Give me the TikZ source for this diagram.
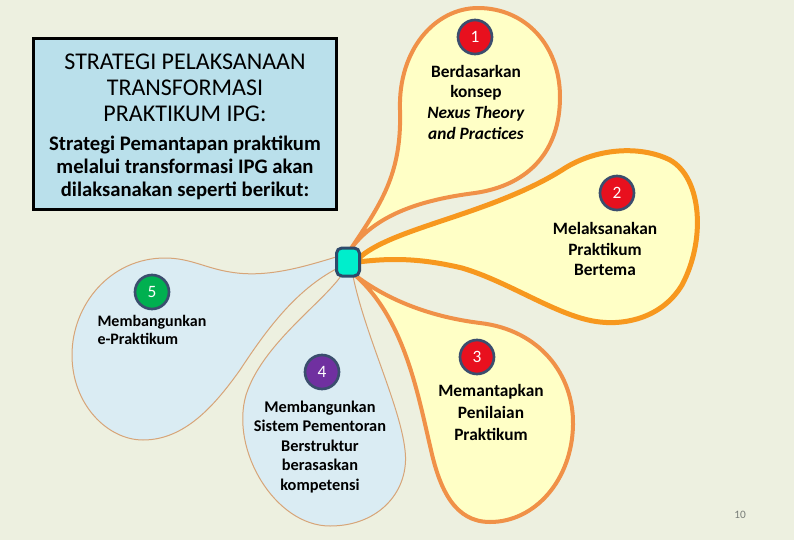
\documentclass[tikz,border=0pt]{standalone}
\usepackage{fontspec}
\setmainfont{Carlito}

\tikzset{every picture/.style={line width=0.75pt}}
\tikzset{
  petalyellow/.style={fill={rgb, 255:red, 255; green, 255; blue, 198 }, draw={rgb, 255:red, 240; green, 145; blue, 72 }, line width=3pt, line join=round},
  petalblue/.style={fill={rgb, 255:red, 218; green, 236; blue, 243 }, draw={rgb, 255:red, 215; green, 165; blue, 120 }, line width=0.75pt},
  numdot/.style={circle, draw={rgb, 255:red, 59; green, 78; blue, 110 }, line width=2pt, minimum size=25.5pt, inner sep=0pt, text=white, font=\fontsize{13}{15}\selectfont},
  petaltext/.style={align=center, inner sep=0.75pt, font=\bfseries\fontsize{13}{15.5}\selectfont},
}

\begin{document}
\begin{tikzpicture}[x=0.75pt,y=0.75pt,yscale=-1,xscale=1]
%Background
\fill [fill={rgb, 255:red, 237; green, 240; blue, 224 }] (0,0) rectangle (794,540);
\useasboundingbox (0,0) rectangle (794,540);

%Shape: Rectangle [title box]
\draw [fill={rgb, 255:red, 186; green, 224; blue, 235 }, line width=2.25pt] (33,38) rectangle (336,209);

%Shape: Petal 5
\draw [petalblue] (336,257) .. controls (300,268) and (265,278) .. (230,272) .. controls (205,268) and (190,258) .. (165,258) .. controls (110,258) and (72,305) .. (72,355) .. controls (72,405) and (108,440) .. (143,440) .. controls (185,440) and (215,405) .. (240,370) .. controls (265,332) and (295,290) .. (338,268) -- cycle ;
%Shape: Petal 4
\draw [petalblue] (341,276) .. controls (320,305) and (262,345) .. (246,395) .. controls (230,450) and (275,526) .. (330,526) .. controls (380,526) and (410,490) .. (405,450) .. controls (400,405) and (365,335) .. (353,276) -- cycle ;
%Shape: Petal 3
\draw [petalyellow] (356,276) .. controls (395,305) and (440,318) .. (480,323) .. controls (540,330) and (574,375) .. (573,425) .. controls (572,480) and (535,522) .. (490,522) .. controls (455,522) and (440,490) .. (431,450) .. controls (418,395) and (405,320) .. (356,276) -- cycle ;
%Shape: Petal 1
\draw [petalyellow] (350,250) .. controls (380,205) and (402,175) .. (400,110) .. controls (398,50) and (435,8) .. (478,8) .. controls (525,8) and (560,45) .. (560,97) .. controls (560,150) and (530,185) .. (475,193) .. controls (420,200) and (375,215) .. (350,250) -- cycle ;
%Shape: Petal 2
\draw [petalyellow, draw={rgb, 255:red, 247; green, 152; blue, 30 }, line width=3.75pt] (358,259) .. controls (390,228) and (490,215) .. (562,170) .. controls (595,148) and (640,145) .. (670,160) .. controls (702,178) and (706,240) .. (682,285) .. controls (662,318) and (625,325) .. (600,322) .. controls (560,318) and (510,282) .. (462,268) .. controls (420,258) and (390,258) .. (358,262) -- cycle ;

%Shape: Rounded Rectangle [hub]
\node [draw={rgb, 255:red, 46; green, 74; blue, 107 }, fill={rgb, 255:red, 0; green, 238; blue, 204 }, line width=2.25pt, rounded corners=4pt, minimum width=17.25pt, minimum height=21pt, inner sep=0pt] (hub) at (348,262) {};

%Number circles
\node [numdot, fill={rgb, 255:red, 232; green, 16; blue, 30 }] (numone) at (475,37) {1};
\node [numdot, fill={rgb, 255:red, 232; green, 16; blue, 30 }] (numtwo) at (617,193) {2};
\node [numdot, fill={rgb, 255:red, 232; green, 16; blue, 30 }] (numthree) at (477,357) {3};
\node [numdot, fill={rgb, 255:red, 112; green, 48; blue, 160 }] (numfour) at (322,372) {4};
\node [numdot, fill={rgb, 255:red, 0; green, 176; blue, 80 }] (numfive) at (152,292) {5};

% Text Node
\node [align=center, inner sep=0.75pt, font=\fontsize{18}{19.5}\selectfont] (title) at (185,88) {STRATEGI PELAKSANAAN\\TRANSFORMASI\\PRAKTIKUM IPG:};
% Text Node
\node [align=center, inner sep=0.75pt, font=\bfseries\fontsize{15.5}{17.25}\selectfont] (subtitle) at (185,168) {Strategi Pemantapan praktikum\\melalui transformasi IPG akan\\dilaksanakan seperti berikut:};
% Text Node
\node [petaltext] (txtone) at (476,102) {Berdasarkan\\konsep\\\textit{Nexus Theory}\\\textit{and Practices}};
% Text Node
\node [petaltext] (txttwo) at (605,249) {Melaksanakan\\Praktikum\\Bertema};
% Text Node
\node [petaltext, font=\bfseries\fontsize{13}{16.5}\selectfont] (txtthree) at (491,412) {Memantapkan\\Penilaian\\Praktikum};
% Text Node
\node [petaltext, font=\bfseries\fontsize{12.25}{14.6}\selectfont] (txtfour) at (320,447) {Membangunkan\\Sistem Pementoran\\Berstruktur\\berasaskan\\kompetensi};
% Text Node
\node [petaltext, align=left, anchor=west, font=\bfseries\fontsize{12}{13.5}\selectfont] (txtfive) at (96,330) {Membangunkan\\e-Praktikum};
% Text Node
\node [inner sep=0.75pt, text={rgb, 255:red, 120; green, 125; blue, 120 }, font=\fontsize{8.5}{10}\selectfont] (pagenum) at (740,515) {10};

\end{tikzpicture}
\end{document}
